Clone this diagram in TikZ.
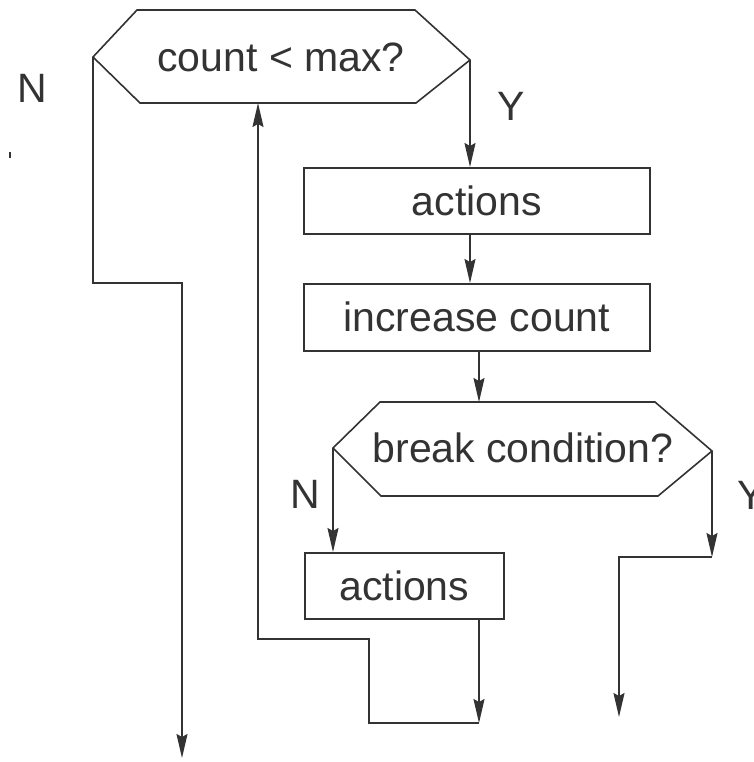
\documentclass[tikz,border=0pt]{standalone}
\usepackage{fontspec}
\setmainfont{Liberation Sans}
\usetikzlibrary{arrows.meta}
\definecolor{ink}{HTML}{333333}
\begin{document}
\begin{tikzpicture}[x=1pt,y=-1pt, line width=1.6pt,
  txt/.style={font=\fontsize{41}{45}\selectfont, text=ink, inner sep=0pt},
  box/.style={draw=ink, rectangle, inner sep=0pt, anchor=north west, font=\fontsize{41}{45}\selectfont, text=ink},
  hexline/.style={draw=ink, line join=miter},
  conn/.style={draw=ink},
  arr/.style={draw=ink, -{Stealth[length=24pt,width=11pt,inset=3pt]}}]
\useasboundingbox (0,0) rectangle (753,762);

% first decision
\coordinate (c1a) at (137,10);
\coordinate (c1b) at (415,10);
\coordinate (c1R) at (470,60);
\coordinate (c1c) at (416,103);
\coordinate (c1d) at (140,103);
\coordinate (c1L) at (93,57);
\coordinate (c1B) at (258,103);
\draw[hexline] (c1a) -- (c1b) -- (c1R) -- (c1c) -- (c1d) -- (c1L) -- cycle;
\node[txt] (cond1) at (281,57) {count < max?};

% boxes
\node[box, minimum width=346pt, minimum height=66pt] (act1) at (303,167) {actions};
\node[box, minimum width=346pt, minimum height=67pt] (inc) at (303,283) {increase count};
\node[box, minimum width=199pt, minimum height=66pt] (act2) at (304,552) {actions};

% second decision
\coordinate (c2a) at (380,402);
\coordinate (c2b) at (655,402);
\coordinate (c2R) at (712,451);
\coordinate (c2c) at (658,496);
\coordinate (c2d) at (381,496);
\coordinate (c2L) at (333,448);
\coordinate (c2T) at (479,402);
\draw[hexline] (c2a) -- (c2b) -- (c2R) -- (c2c) -- (c2d) -- (c2L) -- cycle;
\node[txt] (cond2) at (523,448) {break condition?};

% labels
\node[txt] (n1) at (32,88) {N};
\node[txt] (y1) at (511,106) {Y};
\node[txt] (n2) at (305,494) {N};
\node[txt, anchor=west] (y2) at (737,495) {Y};

% stray tick
\draw[conn, line width=1.2pt] (10,152) -- (10,158);

% connectors
\draw[arr] (c1R) -- (c1R |- act1.north);
\draw[arr] (act1.south -| c1R) -- (inc.north -| c1R);
\draw[arr] (c2T |- inc.south) -- (c2T);
\draw[arr] (c2L) -- (c2L |- act2.north);

\coordinate (yk) at (712,557);
\coordinate (yend) at (619,717);
\draw[arr] (c2R) -- (yk);
\draw[arr] (yk) -- (yend |- yk) -- (yend);

\coordinate (lk) at (479,723);
\draw[arr] (act2.south -| lk) -- (lk);
\draw[arr] (lk) -- (369,723) -- (369,639) -- (258,639) -- (c1B);

\coordinate (nend) at (182,758);
\draw[arr] (c1L) -- (93,283) -- (182,283) -- (nend);
\end{tikzpicture}
\end{document}
